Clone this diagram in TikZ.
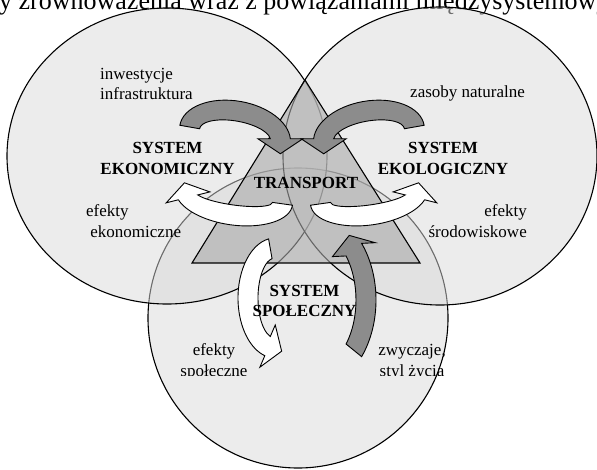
\documentclass[tikz,border=0pt]{standalone}
\usepackage{fontspec}
\setmainfont{Liberation Serif}

% half width of an arrow body, half width of its head, length of its head
\newcommand{\awid}{10}
\newcommand{\ahead}{22.5}
\newcommand{\alen}{15}

% curved block arrow along an ellipse:
% style, centre, tilt, x radius, y radius, tail angle, head angle, tip direction
\newcommand{\bentarrow}[8]{%
  \begin{scope}[shift={(#2)}, rotate=#3]
    \pgfmathsetmacro{\rxo}{#4+\awid}\pgfmathsetmacro{\ryo}{#5+\awid}
    \pgfmathsetmacro{\rxi}{#4-\awid}\pgfmathsetmacro{\ryi}{#5-\awid}
    \pgfmathsetmacro{\hmx}{#4*cos(#7)}\pgfmathsetmacro{\hmy}{#5*sin(#7)}
    \pgfmathsetmacro{\sd}{ifthenelse(#7>#6,-90,90)}
    \pgfmathsetmacro{\fx}{\ahead*cos(#8+\sd)}\pgfmathsetmacro{\fy}{\ahead*sin(#8+\sd)}
    \pgfmathsetmacro{\tx}{\hmx+\alen*cos(#8)}\pgfmathsetmacro{\ty}{\hmy+\alen*sin(#8)}
    \filldraw[#1] ({\rxo*cos(#6)}, {\ryo*sin(#6)})
      arc[start angle=#6, end angle=#7, x radius=\rxo, y radius=\ryo]
      -- ({\hmx+\fx}, {\hmy+\fy}) -- (\tx, \ty) -- ({\hmx-\fx}, {\hmy-\fy})
      -- ({\rxi*cos(#7)}, {\ryi*sin(#7)})
      arc[start angle=#7, end angle=#6, x radius=\rxi, y radius=\ryi] -- cycle;
  \end{scope}}

\begin{document}
\begin{tikzpicture}[x=1pt, y=1pt,
  sphere/.style={draw=black, line width=1.1pt, fill=gray!30, fill opacity=0.5},
  core/.style={draw=black, line width=1.1pt, fill=gray!67, fill opacity=0.6},
  darkarrow/.style={draw=black, line width=0.9pt, fill=black!45},
  lightarrow/.style={draw=black, line width=0.9pt, fill=white},
  lbl/.style={inner sep=0pt, font=\fontsize{17}{20.5}\selectfont},
  sys/.style={inner sep=0pt, font=\fontsize{17}{20.5}\selectfont\bfseries, align=center}
]
\useasboundingbox (0,0) rectangle (597,-469);
\clip (0,0) rectangle (597,-469);

% --- caption line running above the page edge ---
\node[anchor=base west, inner sep=0pt, font=\fontsize{26}{30}\selectfont]
  (caption) at (-1,-9.5) {y zrównoważenia wraz z powiązaniami międzysystemowymi};

% --- the three systems ---
\path[draw=black, line width=1.1pt, fill=gray!15] (298,-318) circle[radius=150];
\path[sphere] (167,-156) ellipse[x radius=160, y radius=148];
\path[sphere] (440,-156) ellipse[x radius=157, y radius=149];

% --- transport triangle ---
\coordinate (apex) at (305,-80);
\coordinate (baseR) at (420,-263);
\coordinate (baseL) at (192,-263);
\draw[core] (apex) -- (baseR) -- (baseL) -- cycle;

% --- flows into and out of transport ---
\bentarrow{darkarrow}{235,-135}{-10}{46}{24}{180}{10}{-80}
\bentarrow{darkarrow}{369,-135}{10}{46}{24}{0}{170}{260}
\bentarrow{lightarrow}{234,-197}{-8}{49}{18}{0}{-158}{112}
\bentarrow{lightarrow}{369,-197}{8}{49}{18}{180}{338}{68}
\bentarrow{lightarrow}{275,-298}{0}{27}{50}{100}{254}{340}
\bentarrow{darkarrow}{311.5,-300}{0}{54.5}{80}{-39}{39}{108}

% --- labels ---
\node[lbl, anchor=west, align=left] (inv) at (100,-84) {inwestycje\\infrastruktura};
\node[lbl, anchor=base west] (nat) at (410,-97) {zasoby naturalne};
\node[sys] (eko) at (167.5,-158.5) {SYSTEM\\EKONOMICZNY};
\node[sys] (eco) at (443,-158.5) {SYSTEM\\EKOLOGICZNY};
\node[sys] (trans) at (306,-182.5) {TRANSPORT};
\node[lbl, anchor=west, align=left] (efek) at (86,-221) {efekty\\\ ekonomiczne};
\node[lbl, anchor=east, align=right] (efes) at (527,-221) {efekty\\środowiskowe};
\node[sys] (spo) at (304.5,-301) {SYSTEM\\SPOŁECZNY};
\begin{scope}
  \clip (0,0) rectangle (597,-375);
  \node[lbl, align=center] (efsp) at (214,-362) {efekty\\społeczne};
  \node[lbl, align=center] (zwy) at (412,-362) {zwyczaje,\\styl życia};
\end{scope}
\end{tikzpicture}
\end{document}
